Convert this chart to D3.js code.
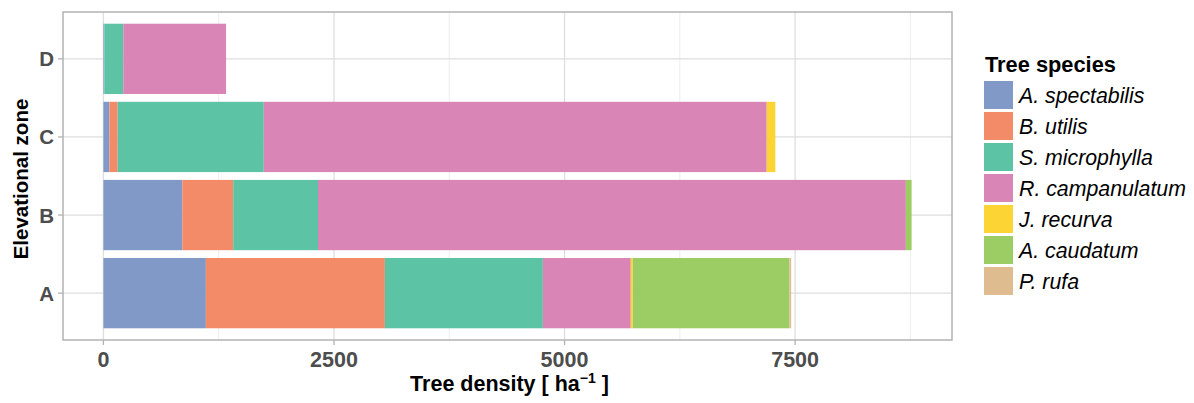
<!DOCTYPE html>
<html>
<head>
<meta charset="utf-8">
<script src="https://cdn.jsdelivr.net/npm/d3@7"></script>
<style>
  html, body { margin: 0; padding: 0; background: #fff; }
  svg { display: block; font-family: "Liberation Sans", Arial, sans-serif; }
</style>
</head>
<body>
<svg id="chart" width="1194" height="403"></svg>
<script>
// ---- data ----
const zones = ["A", "B", "C", "D"];
const species = ["A. spectabilis", "B. utilis", "S. microphylla", "R. campanulatum", "J. recurva", "A. caudatum", "P. rufa"];
const colors = ["#8199c6", "#f38b68", "#5dc3a5", "#d985b6", "#fcd535", "#9ccd64", "#dfbc8f"];
// values per zone in order A, B, C, D
const aSpectabilis   = [1111, 855, 65, 10];
const bUtilis        = [1941, 552, 90, 0];
const sMicrophylla   = [1713, 920, 1584, 205];
const rCampanulatum  = [953, 6374, 5453, 1115];
const jRecurva       = [22, 0, 94, 0];
const aCaudatum      = [1698, 62, 0, 0];
const pRufa          = [19, 0, 0, 0];
const xTicks = [0, 2500, 5000, 7500];
const xMinorTicks = [1250, 3750, 6250, 8750];

const seriesValues = [aSpectabilis, bUtilis, sMicrophylla, rCampanulatum, jRecurva, aCaudatum, pRufa];
const table = zones.map((z, i) => {
  const row = { zone: z };
  species.forEach((s, j) => row[s] = seriesValues[j][i]);
  return row;
});

// ---- layout ----
const svg = d3.select("#chart");
const panel = { left: 63, right: 952, top: 12, bottom: 340 };

const stack = d3.stack().keys(species);
const stacked = stack(table);
const maxTotal = d3.max(table, d => d3.sum(species, s => d[s]));
const pad = maxTotal * 0.05;

const x = d3.scaleLinear().domain([-pad, maxTotal + pad]).range([panel.left, panel.right]);
// discrete y with 0.6 expansion each side, bar width 0.9
const unit = (panel.bottom - panel.top) / (zones.length - 1 + 1.2);
const yCenter = z => panel.bottom - (0.6 + zones.indexOf(z)) * unit;
const bandH = unit * 0.9;

const color = d3.scaleOrdinal().domain(species).range(colors);

// gridlines
const g = svg.append("g");
g.selectAll("line.minor").data(xMinorTicks).join("line")
  .attr("x1", d => x(d)).attr("x2", d => x(d))
  .attr("y1", panel.top).attr("y2", panel.bottom)
  .attr("stroke", "#ebebeb").attr("stroke-width", 0.9);
g.selectAll("line.major").data(xTicks).join("line")
  .attr("x1", d => x(d)).attr("x2", d => x(d))
  .attr("y1", panel.top).attr("y2", panel.bottom)
  .attr("stroke", "#dedede").attr("stroke-width", 1.3);
g.selectAll("line.hmajor").data(zones).join("line")
  .attr("x1", panel.left).attr("x2", panel.right)
  .attr("y1", d => yCenter(d)).attr("y2", d => yCenter(d))
  .attr("stroke", "#dedede").attr("stroke-width", 1.3);

// bars
svg.append("g").selectAll("g").data(stacked).join("g")
  .attr("fill", d => color(d.key))
  .selectAll("rect").data(d => d).join("rect")
  .attr("x", d => x(d[0]))
  .attr("width", d => Math.max(0, x(d[1]) - x(d[0])))
  .attr("y", d => yCenter(d.data.zone) - bandH / 2)
  .attr("height", bandH);

// panel border
svg.append("rect")
  .attr("x", panel.left).attr("y", panel.top)
  .attr("width", panel.right - panel.left).attr("height", panel.bottom - panel.top)
  .attr("fill", "none").attr("stroke", "#b3b3b3").attr("stroke-width", 1.5);

// x axis ticks & labels
const xa = svg.append("g");
xa.selectAll("line").data(xTicks).join("line")
  .attr("x1", d => x(d)).attr("x2", d => x(d))
  .attr("y1", panel.bottom).attr("y2", panel.bottom + 5)
  .attr("stroke", "#b3b3b3").attr("stroke-width", 1.3);
xa.selectAll("text").data(xTicks).join("text")
  .attr("x", d => x(d)).attr("y", 366.5)
  .attr("text-anchor", "middle")
  .attr("font-size", 21.5).attr("font-weight", "bold").attr("fill", "#4d4d4d")
  .text(d => d);

// y axis ticks & labels
const ya = svg.append("g");
ya.selectAll("line").data(zones).join("line")
  .attr("x1", panel.left - 5).attr("x2", panel.left)
  .attr("y1", d => yCenter(d)).attr("y2", d => yCenter(d))
  .attr("stroke", "#b3b3b3").attr("stroke-width", 1.3);
ya.selectAll("text").data(zones).join("text")
  .attr("x", 54).attr("y", d => yCenter(d) + 7.5)
  .attr("text-anchor", "end")
  .attr("font-size", 20.5).attr("font-weight", "bold").attr("fill", "#4d4d4d")
  .text(d => d);

// axis titles
const xt = svg.append("text")
  .attr("x", (panel.left + panel.right) / 2 + 2).attr("y", 391)
  .attr("text-anchor", "middle")
  .attr("font-size", 21.5).attr("font-weight", "bold").attr("fill", "#000");
xt.append("tspan").text("Tree density [ ha");
xt.append("tspan").attr("dy", -8).attr("font-size", 14).text("\u22121");
xt.append("tspan").attr("dy", 8).text(" ]");

svg.append("text")
  .attr("transform", `translate(28,${(panel.top + panel.bottom) / 2 + 3}) rotate(-90)`)
  .attr("text-anchor", "middle")
  .attr("font-size", 20.5).attr("font-weight", "bold").attr("fill", "#000")
  .text("Elevational zone");

// legend
const lg = svg.append("g");
lg.append("text").attr("x", 985).attr("y", 71.5)
  .attr("font-size", 21.8).attr("font-weight", "bold").attr("fill", "#000")
  .text("Tree species");
const items = lg.selectAll("g.item").data(species).join("g")
  .attr("transform", (d, i) => `translate(984,${81 + i * 31})`);
items.append("rect").attr("width", 29).attr("height", 28).attr("fill", d => color(d));
items.append("text").attr("x", 35).attr("y", 22)
  .attr("font-size", 21.3).attr("font-style", "italic").attr("fill", "#000")
  .text(d => d);
</script>
</body>
</html>
